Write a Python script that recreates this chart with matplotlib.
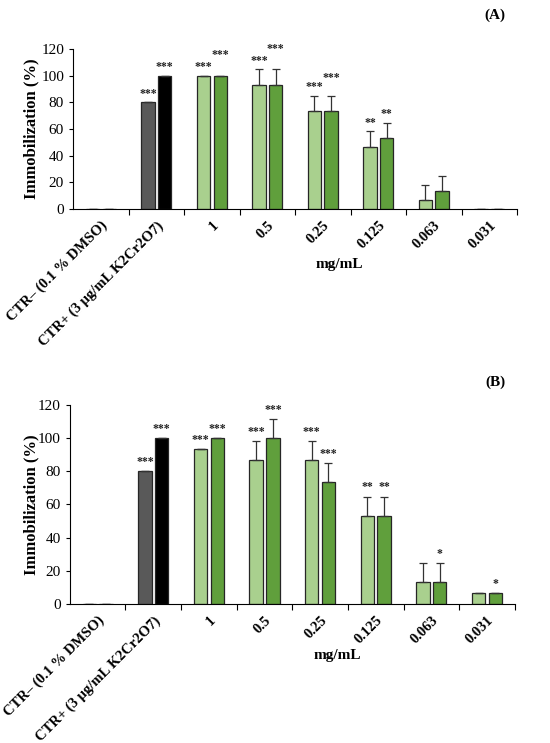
import numpy as np
import matplotlib.pyplot as plt

plt.rcParams['font.family'] = ['Liberation Serif', 'DejaVu Serif']

categories = ['CTR\u2013 (0.1 % DMSO)', 'CTR+ (3 \u00b5g/mL K2Cr2O7)',
              '1', '0.5', '0.25', '0.125', '0.063', '0.031']

# panel A: left / right bars, error (upper only), significance
a_left = [0, 80, 100, 93.3, 73.3, 46.7, 6.7, 0]
a_right = [0, 100, 100, 93.3, 73.3, 53.3, 13.3, 0]
a_left_err = [0, 0, 0, 11.5, 11.5, 11.5, 11.5, 0]
a_right_err = [0, 0, 0, 11.5, 11.5, 11.5, 11.5, 0]
a_left_sig = ['', '***', '***', '***', '***', '**', '', '']
a_right_sig = ['', '***', '***', '***', '***', '**', '', '']
a_right_lift = [0, 0, 9, 9, 7, 0, 0, 0]

# panel B
b_left = [0, 80, 93.3, 86.7, 86.7, 53.3, 13.3, 6.7]
b_right = [0, 100, 100, 100, 73.3, 53.3, 13.3, 6.7]
b_left_err = [0, 0, 0, 11.5, 11.5, 11.5, 11.5, 0]
b_right_err = [0, 0, 0, 11.5, 11.5, 11.5, 11.5, 0]
b_left_sig = ['', '***', '***', '***', '***', '**', '', '']
b_right_sig = ['', '***', '***', '***', '***', '**', '*', '*']
b_right_lift = [0, 0, 0, 0, 0, 0, 0, 0]

left_colors = ['#595959', '#595959'] + ['#a9d08e'] * 6
right_colors = ['#000000', '#000000'] + ['#609f3c'] * 6


def panel(ax, left, right, lerr, rerr, lsig, rsig, rlift, tag, tag_y, xlab_off, lpad):
    x = np.arange(len(categories))
    w = 0.24
    off = 0.15
    ax.bar(x - off, left, w, color=left_colors, edgecolor='#262626', linewidth=0.9)
    ax.bar(x + off, right, w, color=right_colors, edgecolor='#262626', linewidth=0.9)
    le = np.array(lerr)
    re = np.array(rerr)
    ax.errorbar(x - off, left, yerr=[np.zeros_like(le), le], fmt='none',
                ecolor='#333333', elinewidth=0.9, capsize=3, capthick=0.9)
    ax.errorbar(x + off, right, yerr=[np.zeros_like(re), re], fmt='none',
                ecolor='#333333', elinewidth=0.9, capsize=3, capthick=0.9)
    for i in range(len(categories)):
        if lsig[i]:
            ax.text(x[i] - off, left[i] + lerr[i] + 2, lsig[i], ha='center',
                    va='bottom', fontsize=8.5, fontweight='bold', color='#222222')
        if rsig[i]:
            ax.text(x[i] + off, right[i] + rerr[i] + 2 + rlift[i], rsig[i],
                    ha='center', va='bottom', fontsize=8.5, fontweight='bold',
                    color='#222222')
    ax.set_xlim(-0.5, len(categories) - 0.5)
    ax.set_ylim(0, 120)
    ax.set_yticks(np.arange(0, 121, 20))
    ax.tick_params(axis='y', labelsize=11, length=3, width=0.8, direction='out')
    ax.set_xticks(x)
    ax.set_xticklabels(categories, rotation=45, ha='right', rotation_mode='anchor',
                       fontsize=10.5, fontweight='bold')
    ax.tick_params(axis='x', which='major', length=0, pad=7)
    ax.set_xticks(np.arange(0.5, len(categories)), minor=True)
    ax.tick_params(axis='x', which='minor', length=4, width=0.8, direction='out')
    for s in ['top', 'right']:
        ax.spines[s].set_visible(False)
    for s in ['left', 'bottom']:
        ax.spines[s].set_linewidth(0.8)
    ax.set_ylabel('Immobilization (%)', fontsize=12, fontweight='bold', labelpad=lpad)
    ax.text(4.3, xlab_off, 'mg/mL', transform=ax.get_xaxis_transform(),
            ha='center', va='center', fontsize=11, fontweight='bold')
    ax.figure.text(0.9, tag_y, tag, ha='center', va='center',
                   fontsize=11, fontweight='bold')


fig = plt.figure(figsize=(5.5, 7.43), dpi=100)
ax1 = fig.add_axes([0.133, 0.7187, 0.807, 0.2153])
ax2 = fig.add_axes([0.127, 0.187, 0.809, 0.268])

panel(ax1, a_left, a_right, a_left_err, a_right_err, a_left_sig, a_right_sig,
      a_right_lift, '(A)', 0.98, -0.35, 1)
panel(ax2, b_left, b_right, b_left_err, b_right_err, b_left_sig, b_right_sig,
      b_right_lift, '(B)', 0.485, -0.26, -1)

fig.savefig('out.png', dpi=100)
